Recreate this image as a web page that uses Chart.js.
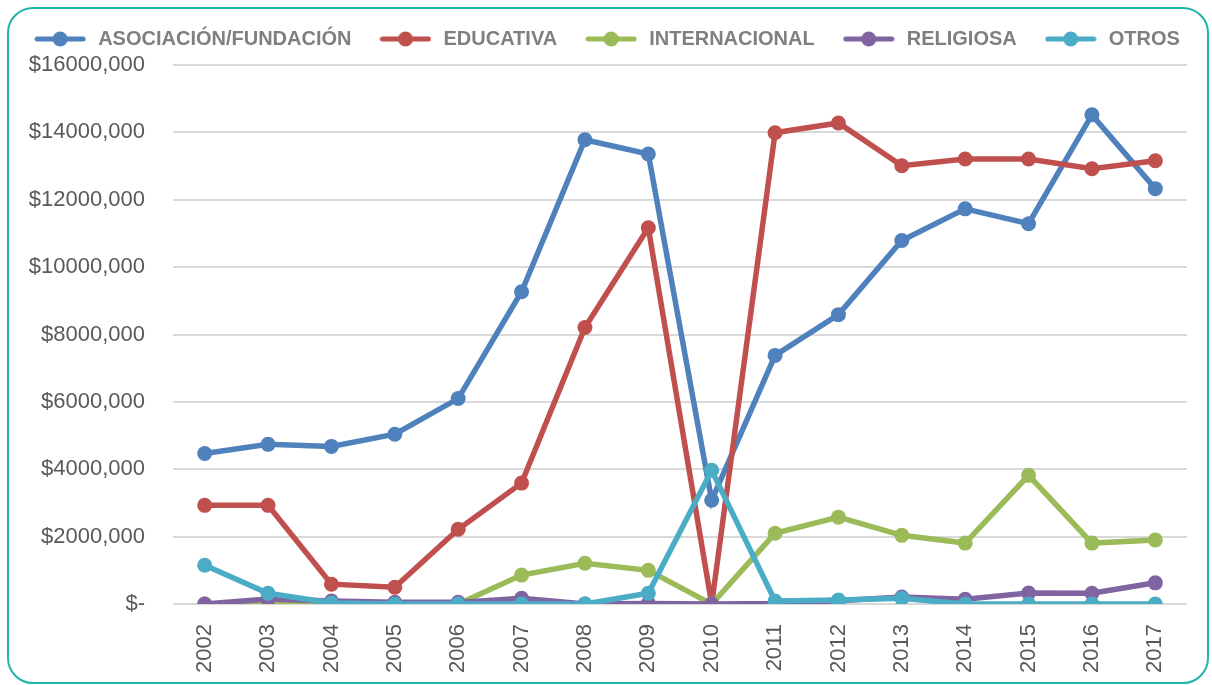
<!DOCTYPE html>
<html>
<head>
<meta charset="utf-8">
<script src="https://cdn.jsdelivr.net/npm/chart.js@4/dist/chart.umd.min.js"></script>
<style>
  html, body { margin: 0; padding: 0; background: #fff; }
  #card {
    position: absolute; left: 7px; top: 7px; width: 1202px; height: 677px;
    box-sizing: border-box; border: 2px solid #1fb3aa; border-radius: 26px;
  }
  #box { position: absolute; left: 0; top: 0; width: 1212px; height: 685px; }
</style>
</head>
<body>
<div id="card"></div>
<div id="box"><canvas id="chart"></canvas></div>
<script>
const years = ['2002','2003','2004','2005','2006','2007','2008','2009','2010','2011','2012','2013','2014','2015','2016','2017'];

const asociacion = [4470000,4740000,4680000,5040000,6100000,9270000,13780000,13360000,3080000,7380000,8590000,10790000,11730000,11290000,14520000,12330000];
const educativa = [2930000,2930000,590000,500000,2220000,3590000,8210000,11170000,0,13990000,14280000,13010000,13210000,13210000,12920000,13160000];
const internacional = [0,0,0,0,0,860000,1210000,1000000,0,2100000,2580000,2040000,1810000,3820000,1810000,1900000];
const religiosa = [0,150000,90000,50000,50000,170000,0,20000,0,20000,100000,210000,140000,330000,320000,630000];
const otros = [1150000,320000,30000,0,0,0,0,320000,3970000,90000,120000,170000,0,0,0,0];

const seriesNames = ['ASOCIACIÓN/FUNDACIÓN','EDUCATIVA','INTERNACIONAL','RELIGIOSA','OTROS'];
const colors = ['#4f81bd','#c0504d','#9bbb59','#8064a2','#4bacc6'];
const yTicks = [0,2000000,4000000,6000000,8000000,10000000,12000000,14000000,16000000];

Chart.defaults.font.family = "'Liberation Sans', Arial, sans-serif";

// little line + dot image used in the legend
function legendIcon(color) {
  const c = document.createElement('canvas');
  c.width = 52; c.height = 18;
  const g = c.getContext('2d');
  g.strokeStyle = color; g.lineWidth = 5; g.lineCap = 'round';
  g.beginPath(); g.moveTo(3, 9); g.lineTo(49, 9); g.stroke();
  g.fillStyle = color;
  g.beginPath(); g.arc(26, 9, 7.5, 0, Math.PI * 2); g.fill();
  return c;
}

const allSeries = [asociacion, educativa, internacional, religiosa, otros];
const datasets = allSeries.map((vals, i) => ({
  label: seriesNames[i],
  data: vals,
  borderColor: colors[i],
  backgroundColor: colors[i],
  borderWidth: 5.5,
  pointRadius: 7.5,
  pointBorderWidth: 0,
  pointBackgroundColor: colors[i],
  tension: 0,
  order: allSeries.length - i
}));

const ctx = document.getElementById('chart').getContext('2d');
const myChart = new Chart(ctx, {
  type: 'line',
  data: { labels: years, datasets },
  options: {
    responsive: true,
    maintainAspectRatio: false,
    animation: false,
    layout: { padding: { left: 0, right: 0, top: 3, bottom: 0 } },
    plugins: {
      tooltip: { enabled: false },
      // empty spacer between legend and plot
      subtitle: { display: true, text: '', weight: 500, padding: 0, font: { size: 6, lineHeight: 1 } },
      legend: {
        position: 'top',
        labels: {
          usePointStyle: true,
          pointStyleWidth: 56,
          padding: 26,
          color: '#7f7f7f',
          font: { size: 20, weight: 'bold' },
          generateLabels: (chart) => {
            const items = Chart.defaults.plugins.legend.labels.generateLabels(chart);
            items.sort((a, b) => a.datasetIndex - b.datasetIndex);
            items.forEach(it => { it.pointStyle = legendIcon(colors[it.datasetIndex]); });
            return items;
          }
        }
      }
    },
    scales: {
      x: {
        offset: true,
        grid: { display: false },
        border: { display: false },
        ticks: { color: '#595959', font: { size: 22 }, maxRotation: 90, minRotation: 90, padding: 12 }
      },
      y: {
        min: 0,
        max: 16000000,
        afterBuildTicks: (axis) => { axis.ticks = yTicks.map(v => ({ value: v })); },
        afterFit: (axis) => { axis.width = 173; },
        grid: { color: '#d9d9d9', lineWidth: 2, drawTicks: false },
        border: { display: false },
        ticks: {
          color: '#595959',
          font: { size: 22 },
          padding: 28,
          callback: (v) => v === 0 ? '$-' : '$' + (v / 1000) + ',000'
        }
      },
      // empty right margin
      yRight: {
        position: 'right',
        min: 0,
        max: 16000000,
        grid: { display: false },
        border: { display: false },
        ticks: { display: false },
        afterFit: (axis) => { axis.width = 25; }
      }
    }
  }
});
</script>
</body>
</html>
